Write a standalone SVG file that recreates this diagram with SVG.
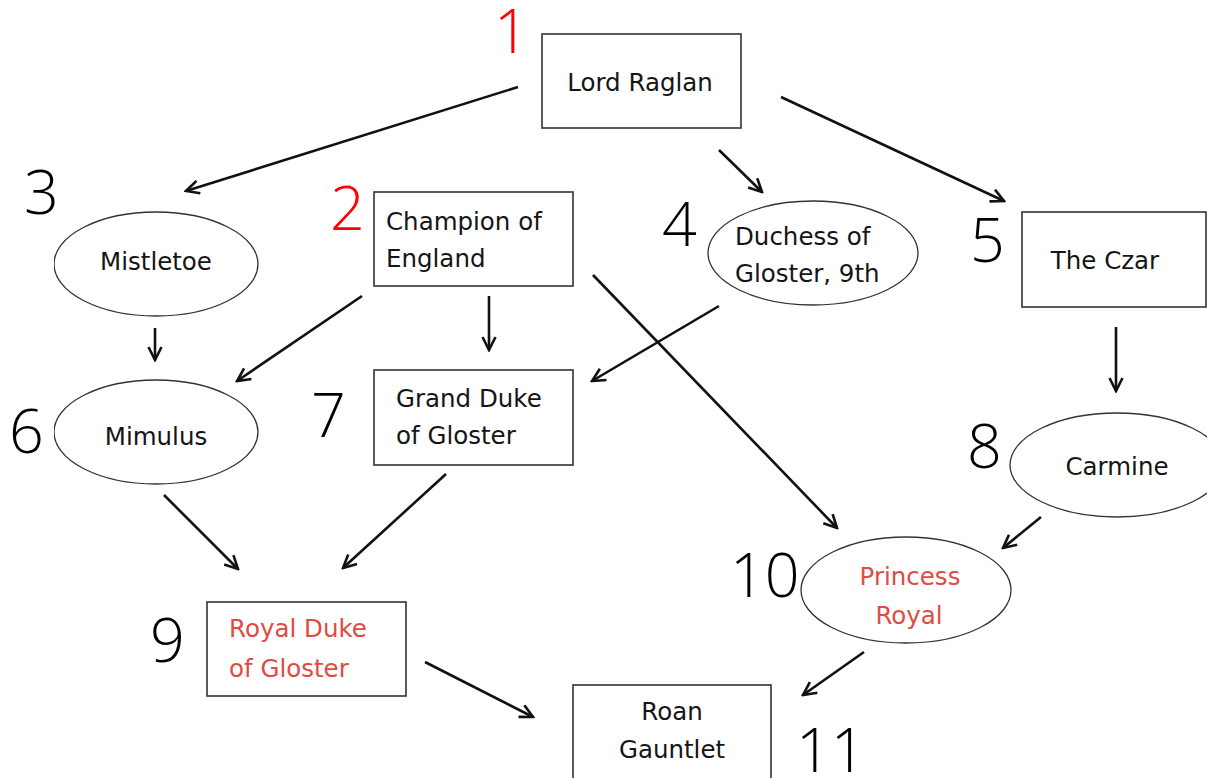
<svg xmlns="http://www.w3.org/2000/svg" width="1207" height="778" viewBox="0 0 1207 778">
<style>
.box{fill:#fff;stroke:#333;stroke-width:1.6}
.ell{fill:#fff;stroke:#333;stroke-width:1.3}
.lbl{font-family:"DejaVu Sans","Open Sans",sans-serif;font-size:24.5px;fill:#151515;text-anchor:middle}
.st{text-anchor:start}
.red{fill:#e04b43}
.num{font-family:"Open Sans","Noto Sans",sans-serif;font-weight:300;font-size:61px;fill:#000}
.numr{fill:#ff0000}
.edge{stroke:#111;stroke-width:2.6;fill:none;marker-end:url(#arr)}
</style>
<defs>
<marker id="arr" viewBox="0 0 16 16" refX="14" refY="8" markerWidth="16" markerHeight="16" markerUnits="userSpaceOnUse" orient="auto">
<path d="M1,1.5 L14,8 L1,14.5" fill="none" stroke="#111" stroke-width="2.6"/>
</marker>
<clipPath id="clipL"><rect x="54" y="0" width="1153" height="778"/></clipPath>
</defs>
<rect width="1207" height="778" fill="#fff"/>
<g id="connectors">
<line class="edge" x1="518" y1="87" x2="186" y2="191"/>
<line class="edge" x1="719" y1="150" x2="762" y2="192"/>
<line class="edge" x1="781" y1="97" x2="1004" y2="201"/>
<line class="edge" x1="155" y1="328" x2="155" y2="360"/>
<line class="edge" x1="362" y1="296" x2="237" y2="381"/>
<line class="edge" x1="489" y1="296" x2="489" y2="350"/>
<line class="edge" x1="593" y1="275" x2="837" y2="528"/>
<line class="edge" x1="719" y1="306" x2="592" y2="381"/>
<line class="edge" x1="1116" y1="327" x2="1116" y2="391"/>
<line class="edge" x1="164" y1="495" x2="238" y2="569"/>
<line class="edge" x1="446" y1="474" x2="343" y2="568"/>
<line class="edge" x1="1041" y1="517" x2="1003" y2="548"/>
<line class="edge" x1="425" y1="662" x2="533" y2="717"/>
<line class="edge" x1="864" y1="652" x2="803" y2="695"/>
</g>
<g id="n1">
<rect class="box" x="542" y="34" width="199" height="94"/>
<text class="lbl" x="640" y="91">Lord Raglan</text>
<text class="num numr" x="494" y="53">1</text>
</g>
<g id="n2">
<rect class="box" x="374" y="192" width="199" height="94"/>
<text class="lbl st" x="386" y="230">Champion of</text>
<text class="lbl st" x="386" y="267">England</text>
<text class="num numr" x="330" y="230">2</text>
</g>
<g id="n3">
<ellipse class="ell" cx="156" cy="264" rx="102" ry="52" clip-path="url(#clipL)"/>
<text class="lbl" x="156" y="270">Mistletoe</text>
<text class="num" x="24" y="214">3</text>
</g>
<g id="n4">
<ellipse class="ell" cx="813" cy="253" rx="105" ry="52"/>
<text class="lbl st" x="735" y="245">Duchess of</text>
<text class="lbl st" x="735" y="282">Gloster, 9th</text>
<text class="num" x="662" y="246">4</text>
</g>
<g id="n5">
<rect class="box" x="1022" y="212" width="184" height="95"/>
<text class="lbl" x="1105" y="269">The Czar</text>
<text class="num" x="970" y="262">5</text>
</g>
<g id="n6">
<ellipse class="ell" cx="156" cy="432" rx="102" ry="52" clip-path="url(#clipL)"/>
<text class="lbl" x="156" y="445">Mimulus</text>
<text class="num" x="9" y="453">6</text>
</g>
<g id="n7">
<rect class="box" x="374" y="370" width="199" height="95"/>
<text class="lbl st" x="396" y="407">Grand Duke</text>
<text class="lbl st" x="396" y="444">of Gloster</text>
<text class="num" x="311" y="437">7</text>
</g>
<g id="n8">
<ellipse class="ell" cx="1117" cy="465" rx="107" ry="52"/>
<text class="lbl" x="1117" y="475">Carmine</text>
<text class="num" x="967" y="468">8</text>
</g>
<g id="n9">
<rect class="box" x="207" y="602" width="199" height="94"/>
<text class="lbl st red" x="229" y="637">Royal Duke</text>
<text class="lbl st red" x="229" y="677">of Gloster</text>
<text class="num" x="150" y="662">9</text>
</g>
<g id="n10">
<ellipse class="ell" cx="906" cy="590" rx="105" ry="53"/>
<text class="lbl red" x="910" y="585">Princess</text>
<text class="lbl red" x="909" y="624">Royal</text>
<text class="num" x="730" y="597">10</text>
</g>
<g id="n11">
<rect class="box" x="573" y="685" width="198" height="100"/>
<text class="lbl" x="672" y="720">Roan</text>
<text class="lbl" x="672" y="758">Gauntlet</text>
<text class="num" x="796" y="772">11</text>
</g>
</svg>
